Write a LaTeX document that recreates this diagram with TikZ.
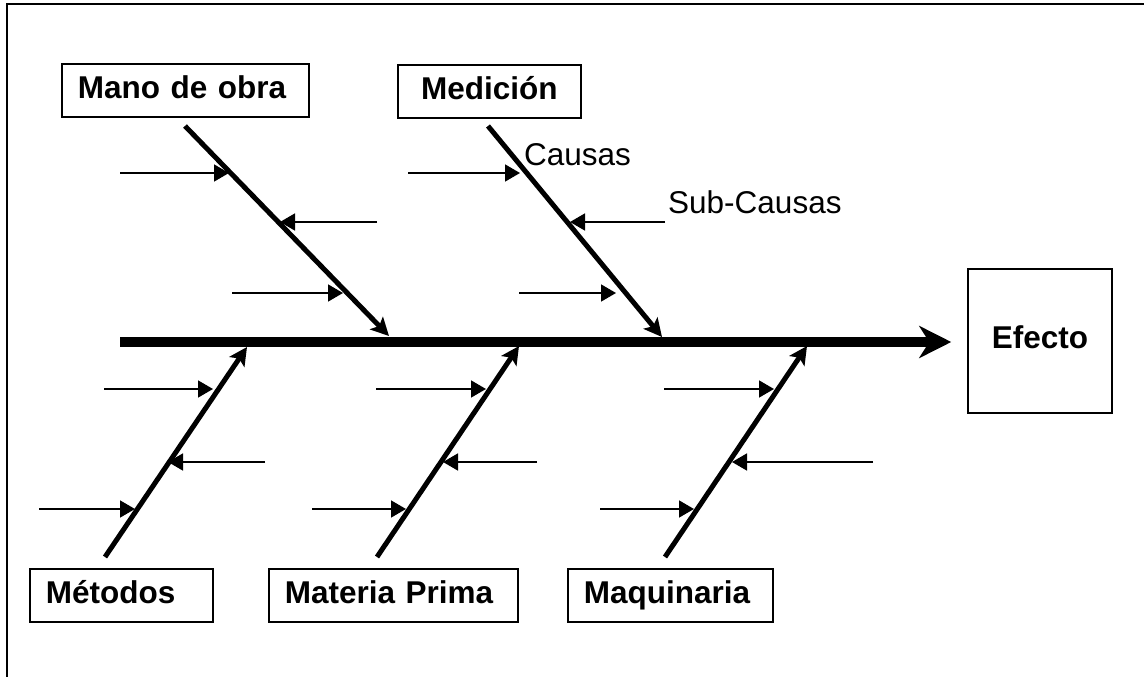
\documentclass[tikz,border=0pt]{standalone}
\usepackage{fontspec}
\setmainfont{Liberation Sans}
\usetikzlibrary{arrows.meta}

\tikzset{
  catbox/.style={draw, line width=1.6pt, font=\fontsize{31.5}{37}\selectfont\bfseries,
    inner xsep=16pt, inner ysep=0pt, align=left, minimum height=53pt,
    text height=22pt, text depth=5pt, anchor=north west},
  effectbox/.style={draw, line width=1.5pt, font=\fontsize{31.5}{37}\selectfont\bfseries,
    minimum width=144pt, minimum height=144pt, text height=21pt, text depth=7pt},
  spine/.style={line width=10.5pt, -{Stealth[length=32pt, width=32pt, inset=10pt]}},
  bone/.style={line width=5pt, -{Stealth[length=18pt, width=18pt, inset=4pt]}},
  subarrow/.style={line width=1.6pt, -{Triangle[length=15pt, width=17pt]}},
  plainlabel/.style={font=\fontsize{31.5}{37}\selectfont, inner sep=0pt, anchor=base west},
}

\begin{document}
\begin{tikzpicture}[x=1pt, y=-1pt]
  \useasboundingbox (0,0) rectangle (1144,677);

  % frame lines along the top and left edges
  \draw[line width=2pt] (7,677) -- (7,4.3) -- (1144,4.3);

  % category boxes
  \node[catbox, text width=215pt] (mano) at (61,63) {Mano de obra};
  \node[catbox, text width=151pt, align=center] (medicion) at (397,64) {Medición};
  \node[catbox, text width=151pt] (metodos) at (29,568) {Métodos};
  \node[catbox, text width=217pt] (materia) at (268,568) {Materia Prima};
  \node[catbox, text width=173pt] (maquinaria) at (567,568) {Maquinaria};

  % effect box
  \node[effectbox] (efecto) at (1040,341) {Efecto};

  % main spine
  \coordinate (spinetail) at (120,342);
  \draw[spine, shorten >=16pt] (spinetail) -- (spinetail -| efecto.west);

  % bones from each category to the spine
  \foreach \name/\sx/\sy/\ex/\ey in {
      mb/185/126/389/336,
      mdb/488/126/662/337,
      mtb/105/557/247/347,
      mpb/377/557/519/346,
      mqb/665/557/807/346} {
    \coordinate (\name-s) at (\sx,\sy);
    \coordinate (\name-e) at (\ex,\ey);
    \draw[bone] (\name-s) -- (\name-e);
  }

  % sub-cause arrows onto the bones
  \foreach \name/\tx/\hx/\y in {
      m1/120/229/173, m2/377/280/222, m3/232/343/293,
      d1/408/520/173, d2/665/570/222, d3/519/616/293,
      t1/104/213/389, t2/265/168/462, t3/39/135/509,
      p1/376/486/389, p2/537/443/462, p3/312/406/509,
      q1/664/774/389, q2/873/732/462, q3/600/694/509} {
    \coordinate (\name-t) at (\tx,\y);
    \coordinate (\name-h) at (\hx,\y);
    \draw[subarrow] (\name-t) -- (\name-h);
  }

  % annotations
  \node[plainlabel] (causas) at (524,165) {Causas};
  \node[plainlabel] (subcausas) at (668,213) {Sub-Causas};
\end{tikzpicture}
\end{document}
